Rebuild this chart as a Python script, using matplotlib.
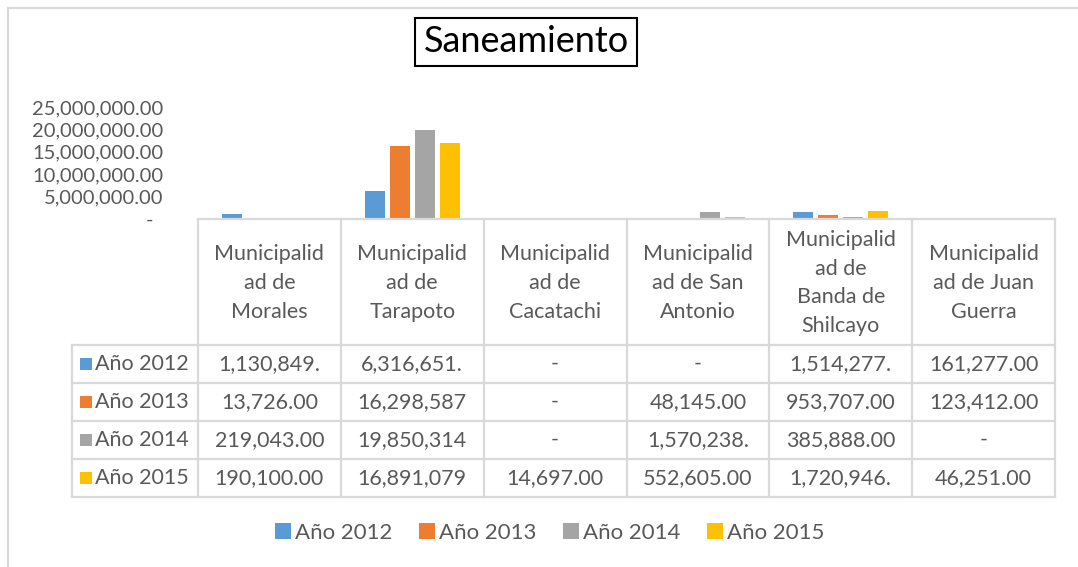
import matplotlib
matplotlib.use("Agg")
import matplotlib.pyplot as plt
import numpy as np
from matplotlib.lines import Line2D
from matplotlib.patches import Rectangle
from matplotlib.ticker import FuncFormatter, MultipleLocator

# ---- data ----
categories = [
    "Municipalid\nad de\nMorales",
    "Municipalid\nad de\nTarapoto",
    "Municipalid\nad de\nCacatachi",
    "Municipalid\nad de San\nAntonio",
    "Municipalid\nad de\nBanda de\nShilcayo",
    "Municipalid\nad de Juan\nGuerra",
]
series_names = ["Año 2012", "Año 2013", "Año 2014", "Año 2015"]
anio_2012 = [1130849, 6316651, 0, 0, 1514277, 161277]
anio_2013 = [13726, 16298587, 0, 48145, 953707, 123412]
anio_2014 = [219043, 19850314, 0, 1570238, 385888, 0]
anio_2015 = [190100, 16891079, 14697, 552605, 1720946, 46251]
series_values = [anio_2012, anio_2013, anio_2014, anio_2015]
colors = ["#5B9BD5", "#ED7D31", "#A5A5A5", "#FFC000"]
title = "Saneamiento"

W, H = 1078, 567
FONT = "Lato"
TXT = "#595959"
GRID = "#D9D9D9"

plt.rcParams["font.family"] = [FONT, "DejaVu Sans"]
fig = plt.figure(figsize=(W / 100, H / 100), dpi=100)


def fx(x):
    return x / W


def fy(y):
    return 1 - y / H


# outer chart border
fig.add_artist(Rectangle((fx(8), fy(H + 10)), fx(W + 10), (H + 2) / H, transform=fig.transFigure,
                         fill=False, edgecolor=GRID, lw=1.5))

# plot area
x0, x1 = 198, 1055
y_bot, y_top = 219, 107
ax = fig.add_axes([fx(x0), fy(y_bot), fx(x1 - x0), (y_bot - y_top) / H])
n = len(categories)
xs = np.arange(n)
bw = 0.14
step = 0.175
for i, (vals, c) in enumerate(zip(series_values, colors)):
    ax.bar(xs + (i - 1.5) * step, vals, width=bw, color=c, label=series_names[i])
ax.set_xlim(-0.5, n - 0.5)
ax.set_ylim(0, 25_000_000)
ax.yaxis.set_major_locator(MultipleLocator(5_000_000))
ax.yaxis.set_major_formatter(FuncFormatter(lambda v, p: "-  " if v == 0 else f"{v:,.2f}"))
ax.tick_params(axis="y", length=0, pad=25, labelsize=14.5, labelcolor=TXT)
ax.set_xticks([])
for s in ax.spines.values():
    s.set_visible(False)
ax.patch.set_alpha(0)

# title with box
fig.text(fx(526), fy(42), title, ha="center", va="center", fontsize=26, color="black",
         bbox=dict(boxstyle="square,pad=0.22", fc="white", ec="black", lw=1.5))

# ---- data table ----
col_edges = np.linspace(x0, x1, n + 1)
row_edges = [219, 345, 383, 421, 459, 497]
leg_left = 72


def hline(xa, xb, y):
    fig.add_artist(Line2D([fx(xa), fx(xb)], [fy(y), fy(y)], transform=fig.transFigure, color=GRID, lw=1.6))


def vline(x, ya, yb):
    fig.add_artist(Line2D([fx(x), fx(x)], [fy(ya), fy(yb)], transform=fig.transFigure, color=GRID, lw=1.6))


hline(x0, x1, row_edges[0])
for y in row_edges[1:]:
    hline(leg_left, x1, y)
for x in col_edges:
    vline(x, row_edges[0], row_edges[-1])
vline(leg_left, row_edges[1], row_edges[-1])

FS = 15.5
for j, cat in enumerate(categories):
    cx = (col_edges[j] + col_edges[j + 1]) / 2
    fig.text(fx(cx), fy((row_edges[0] + row_edges[1]) / 2 + 1), cat, ha="center", va="center",
             fontsize=FS, color=TXT, linespacing=1.55)


def fmt_cell(v):
    if v == 0:
        return "-"
    return f"{v:,.2f}"[:10]


for i, vals in enumerate(series_values):
    cy = (row_edges[i + 1] + row_edges[i + 2]) / 2
    fig.add_artist(Rectangle((fx(80), fy(cy + 6)), fx(12), 12 / H, transform=fig.transFigure,
                             color=colors[i], lw=0))
    fig.text(fx(95), fy(cy), series_names[i], ha="left", va="center", fontsize=FS, color=TXT)
    for j, v in enumerate(vals):
        cx = (col_edges[j] + col_edges[j + 1]) / 2
        fig.text(fx(cx), fy(cy), fmt_cell(v), ha="center", va="center", fontsize=FS, color=TXT)

# ---- bottom legend ----
handles, labels = ax.get_legend_handles_labels()
leg = fig.legend(handles, labels, loc="center", bbox_to_anchor=(fx(550), fy(533)), ncol=4, frameon=False,
                 prop={"family": FONT, "size": 16}, handlelength=0.7, handleheight=0.7,
                 handletextpad=0.2, columnspacing=1.2)
for t in leg.get_texts():
    t.set_color(TXT)

fig.savefig("out.png", dpi=100)
